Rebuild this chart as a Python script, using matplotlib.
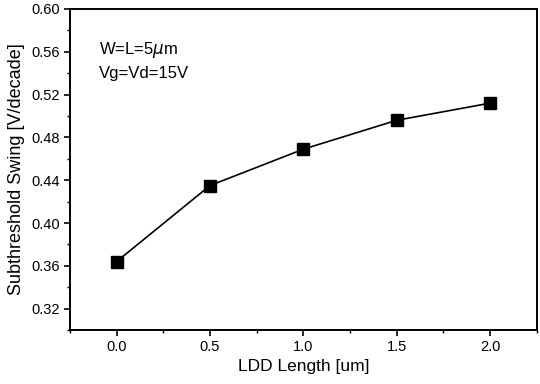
import matplotlib
matplotlib.use('Agg')
import matplotlib.pyplot as plt
from matplotlib.ticker import MultipleLocator

plt.rcParams['font.family'] = ['Liberation Sans', 'DejaVu Sans']

# LDD length (um) vs subthreshold swing (V/decade)
ldd_length = [0.0, 0.5, 1.0, 1.5, 2.0]
swing = [0.364, 0.435, 0.469, 0.496, 0.512]

fig = plt.figure(figsize=(5.4, 3.84), dpi=100)
ax = fig.add_axes([0.1296, 0.1406, 0.8644, 0.836])

ax.plot(ldd_length, swing, color='black', lw=1.2, marker='s', ms=8,
        mfc='black', mec='black')

ax.set_xlim(-0.25, 2.25)
ax.set_ylim(0.30, 0.60)
ax.xaxis.set_major_locator(MultipleLocator(0.5))
ax.xaxis.set_minor_locator(MultipleLocator(0.25))
ax.yaxis.set_minor_locator(MultipleLocator(0.02))
ax.set_yticks([0.32, 0.36, 0.40, 0.44, 0.48, 0.52, 0.56, 0.60])
ax.xaxis.set_major_formatter(plt.FormatStrFormatter('%.1f'))
ax.yaxis.set_major_formatter(plt.FormatStrFormatter('%.2f'))
ax.tick_params(which='major', direction='out', length=4, width=1.2, labelsize=10.5)
ax.tick_params(which='minor', direction='out', length=2, width=1)
for s in ax.spines.values():
    s.set_linewidth(1.4)

ax.set_xlabel('LDD Length [um]', fontsize=12.5, labelpad=3)
ax.set_ylabel('Subthreshold Swing [V/decade]', fontsize=13, labelpad=4)

ax.text(0.063, 0.86, 'W=L=5$\\mu$m', transform=ax.transAxes, fontsize=12)
ax.text(0.063, 0.785, 'Vg=Vd=15V', transform=ax.transAxes, fontsize=12)

fig.savefig('out.png', dpi=100)
